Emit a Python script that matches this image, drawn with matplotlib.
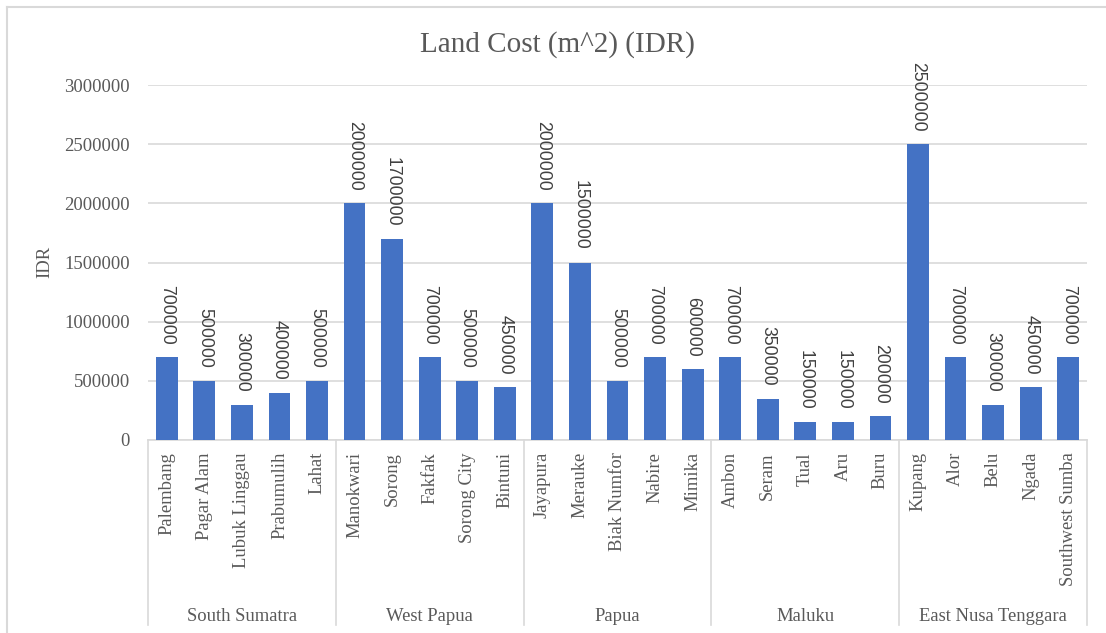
import matplotlib
matplotlib.use("Agg")
import matplotlib.pyplot as plt
import matplotlib.transforms as mtransforms
from matplotlib.lines import Line2D

# land cost per city, grouped by province
provinces = ["South Sumatra", "West Papua", "Papua", "Maluku", "East Nusa Tenggara"]
cities = [
    ["Palembang", "Pagar Alam", "Lubuk Linggau", "Prabumulih", "Lahat"],
    ["Manokwari", "Sorong", "Fakfak", "Sorong City", "Bintuni"],
    ["Jayapura", "Merauke", "Biak Numfor", "Nabire", "Mimika"],
    ["Ambon", "Seram", "Tual", "Aru", "Buru"],
    ["Kupang", "Alor", "Belu", "Ngada", "Southwest Sumba"],
]
costs = [
    [700000, 500000, 300000, 400000, 500000],
    [2000000, 1700000, 700000, 500000, 450000],
    [2000000, 1500000, 500000, 700000, 600000],
    [700000, 350000, 150000, 150000, 200000],
    [2500000, 700000, 300000, 450000, 700000],
]
yticks = [0, 500000, 1000000, 1500000, 2000000, 2500000, 3000000]

BAR = "#4472C4"
TXT = "#595959"
GRID = "#D9D9D9"
SERIF = "Liberation Serif"
SANS = "Liberation Sans"

W, H = 1106, 633
fig = plt.figure(figsize=(W / 100, H / 100), dpi=100)
ax = fig.add_axes([148 / W, 1 - 440 / H, (1087 - 148) / W, (440 - 85) / H])

labels = [c for grp in cities for c in grp]
values = [v for grp in costs for v in grp]
xs = list(range(len(values)))

ax.bar(xs, values, width=0.58, color=BAR, zorder=3)
for x, v in zip(xs, values):
    ax.annotate(str(v), (x, v), xytext=(0, 9), textcoords="offset points",
                rotation=270, ha="center", va="bottom", fontsize=12.7,
                family=SANS, color="#404040")

ax.set_xlim(-0.5, len(values) - 0.5)
ax.set_ylim(0, 3000000)
ax.set_yticks(yticks)
ax.set_yticklabels([str(t) for t in yticks], family=SERIF, fontsize=13.4, color=TXT)
ax.tick_params(axis="y", length=0, pad=13)
ax.set_xticks([])
ax.yaxis.grid(True, color=GRID, linewidth=1.2, zorder=0)
for s in ["left", "right", "top"]:
    ax.spines[s].set_visible(False)
ax.spines["bottom"].set_color(GRID)
ax.spines["bottom"].set_linewidth(1.2)

# two-level category axis
tr = mtransforms.blended_transform_factory(ax.transData, ax.transAxes)
axh = 440 - 85
for x, lab in zip(xs, labels):
    ax.text(x, -12 / axh, lab, transform=tr, rotation=90, ha="center", va="top",
            family=SERIF, fontsize=13.4, color=TXT)
start = 0
for prov, grp in zip(provinces, cities):
    ax.text(start + (len(grp) - 1) / 2, -(621 - 440) / axh, prov, transform=tr,
            ha="center", va="baseline", family=SERIF, fontsize=13.4, color=TXT)
    start += len(grp)
bounds = [-0.5]
for grp in cities:
    bounds.append(bounds[-1] + len(grp))
for b in bounds:
    ax.plot([b, b], [0, -(625 - 440) / axh], transform=tr, color=GRID,
            linewidth=1.2, clip_on=False)

fig.text(557 / W, 1 - 52 / H, "Land Cost (m^2) (IDR)", ha="center", va="baseline",
         family=SERIF, fontsize=21, color=TXT)
fig.text(45 / W, 1 - 262 / H, "IDR", rotation=90, ha="center", va="center",
         family=SERIF, fontsize=13.4, color=TXT)

# chart frame
fig.add_artist(Line2D([7 / W, 7 / W], [0, 1 - 7 / H], transform=fig.transFigure,
                      color=GRID, linewidth=1.5))
fig.add_artist(Line2D([7 / W, 1], [1 - 7 / H, 1 - 7 / H], transform=fig.transFigure,
                      color=GRID, linewidth=1.5))

fig.savefig("out.png", dpi=100)
